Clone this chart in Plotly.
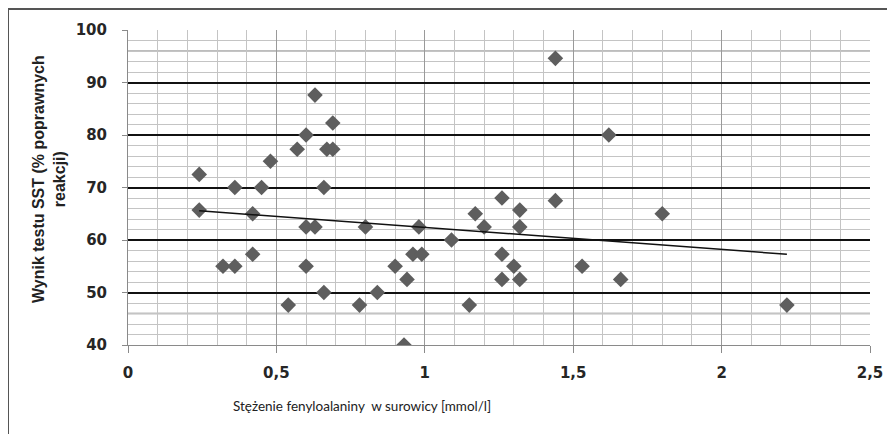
import numpy as np
import plotly.graph_objects as go

# Data
phe_mmol = [0.24, 0.24, 0.32, 0.36, 0.36, 0.42, 0.42, 0.45, 0.48, 0.54,
            0.57, 0.60, 0.60, 0.60, 0.63, 0.63, 0.66, 0.66, 0.67, 0.69,
            0.69, 0.78, 0.80, 0.84, 0.90, 0.93, 0.94, 0.96, 0.98, 0.99,
            1.09, 1.15, 1.17, 1.20, 1.26, 1.26, 1.26, 1.30, 1.32, 1.32,
            1.32, 1.44, 1.44, 1.53, 1.62, 1.66, 1.80, 2.22]
sst_pct = [72.5, 65.7, 55.0, 55.0, 70.0, 65.0, 57.3, 70.0, 75.0, 47.6,
           77.3, 80.0, 62.5, 55.0, 87.6, 62.5, 70.0, 50.0, 77.3, 77.3,
           82.3, 47.6, 62.5, 50.0, 55.0, 40.0, 52.5, 57.3, 62.5, 57.3,
           60.0, 47.6, 65.0, 62.5, 68.0, 57.3, 52.5, 55.0, 65.7, 62.5,
           52.5, 94.6, 67.5, 55.0, 80.0, 52.5, 65.0, 47.6]

x_tick_vals = [0, 0.5, 1, 1.5, 2, 2.5]
x_tick_text = ["0", "0,5", "1", "1,5", "2", "2,5"]
y_tick_vals = [40, 50, 60, 70, 80, 90, 100]
y_tick_text = ["40", "50", "60", "70", "80", "90", "100"]

x_title = "Stężenie fenyloalaniny  w surowicy [mmol/l]"
y_title = "<b>Wynik testu SST (% poprawnych<br>reakcji)</b>"

# Linear trend line from the data
xa = np.array(phe_mmol)
ya = np.array(sst_pct)
slope, intercept = np.polyfit(xa, ya, 1)
tx = np.array([xa.min(), xa.max()])
ty = slope * tx + intercept

fig = go.Figure()
fig.add_trace(go.Scatter(
    x=phe_mmol, y=sst_pct, mode="markers",
    marker=dict(symbol="diamond", size=12, color="#5e5e5e"),
    showlegend=False, hoverinfo="x+y"))
fig.add_trace(go.Scatter(
    x=tx, y=ty, mode="lines",
    line=dict(color="#111111", width=1.5),
    showlegend=False, hoverinfo="skip"))

# page offset (browser body margin)
OX, OY = 8, 8
W, H = 895, 434
L, T = 128 - OX, 30 - OY
pw, ph = 742, 315
R, B = W - L - pw, H - T - ph

def px_x(p):  # page pixel -> paper
    return (p - OX - L) / pw

def px_y(p):
    return (T + ph - (p - OY)) / ph

font_tick = "DejaVu Sans, Liberation Sans, sans-serif"
font_main = "Liberation Sans, Arial, sans-serif"

fig.update_layout(
    width=W, height=H,
    margin=dict(l=L, r=R, t=T, b=B, autoexpand=False),
    paper_bgcolor="white", plot_bgcolor="white",
    separators=", ",
    xaxis=dict(
        range=[0, 2.5], tickvals=x_tick_vals, ticktext=x_tick_text,
        automargin=False,
        showgrid=True, gridcolor="#9a9a9a", gridwidth=1,
        minor=dict(dtick=0.1, showgrid=True, gridcolor="#c4c4c4", gridwidth=1),
        showline=True, linecolor="#8a8a8a", linewidth=1,
        ticks="outside", ticklen=7, tickcolor="#8a8a8a",
        zeroline=False,
        tickfont=dict(family=font_tick, size=15, color="#262626", weight="bold"),
        ticklabelstandoff=7,
    ),
    yaxis=dict(
        range=[40, 100], tickvals=y_tick_vals, ticktext=y_tick_text,
        automargin=False,
        showgrid=True, gridcolor="#111111", gridwidth=1.5,
        minor=dict(dtick=2, showgrid=True, gridcolor="#c4c4c4", gridwidth=1),
        showline=True, linecolor="#8a8a8a", linewidth=1,
        ticks="outside", ticklen=5, tickcolor="#8a8a8a",
        zeroline=False,
        tickfont=dict(family=font_tick, size=15, color="#262626", weight="bold"),
        ticklabelstandoff=12,
    ),
    annotations=[
        dict(text=x_title, xref="paper", yref="paper",
             x=px_x(362), y=px_y(406), xanchor="center", yanchor="middle",
             showarrow=False,
             font=dict(family="Lato, Liberation Sans, sans-serif", size=13.5, color="#222222")),
        dict(text=y_title, xref="paper", yref="paper",
             x=px_x(49), y=px_y(179), xanchor="center", yanchor="middle",
             textangle=-90, showarrow=False,
             font=dict(family=font_main, size=16, color="#222222")),
    ],
    shapes=[
        dict(type="line", xref="paper", yref="paper",
             x0=px_x(8), x1=px_x(8), y0=px_y(450), y1=px_y(9),
             line=dict(color="#555555", width=2)),
        dict(type="line", xref="paper", yref="paper",
             x0=px_x(8), x1=px_x(910), y0=px_y(9), y1=px_y(9),
             line=dict(color="#555555", width=2)),
        dict(type="line", xref="x", yref="y", x0=0, x1=2.5, y0=96, y1=96,
             line=dict(color="#bdbdbd", width=2), layer="below"),
        dict(type="line", xref="x", yref="y", x0=0, x1=2.5, y0=46, y1=46,
             line=dict(color="#bdbdbd", width=2), layer="below"),
    ],
)

fig.write_html("out.html")
